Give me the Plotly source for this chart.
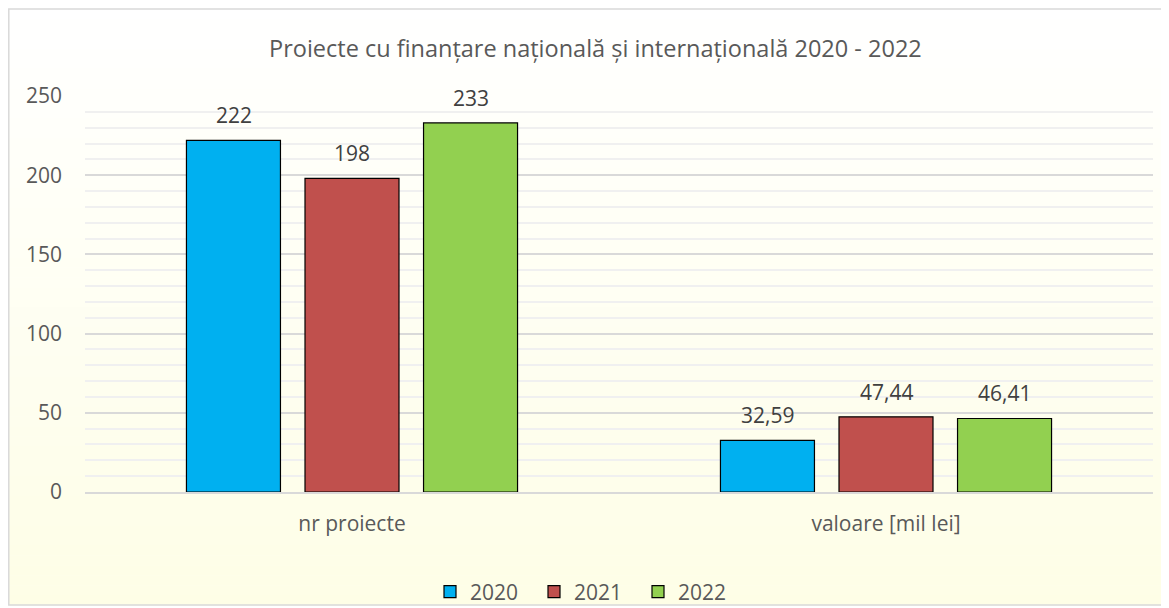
import plotly.graph_objects as go

categories = ["nr proiecte", "valoare [mil lei]"]
years = ["2020", "2021", "2022"]
values_2020 = [222, 32.59]
values_2021 = [198, 47.44]
values_2022 = [233, 46.41]
series = [values_2020, values_2021, values_2022]
colors = ["#00B0F0", "#C0504D", "#92D050"]
title_text = "Proiecte cu finanțare națională și internațională 2020 - 2022"

FONT = "Open Sans"
FS = 21
TFS = 23.5
# page has an 8px body margin, so the figure is 8px smaller and offset
W, H = 1161, 600
L, R, T, B = 77, 16, 88, 116
pw, ph = W - L - R, H - T - B

# helpers take page (screenshot) pixel coordinates
def px2x(px):
    return (px - 8 - L) / pw

def py2y(py):
    return (H - B - (py - 8)) / ph

fig = go.Figure()
for name, vals, col in zip(years, series, colors):
    fig.add_trace(go.Bar(
        x=categories, y=vals, name=name,
        marker=dict(color=col, line=dict(color="#000000", width=1.2)),
    ))

# data labels
offsets = [-118.5, 0, 118.5]
annotations = []
for vals, off in zip(series, offsets):
    for c, v in zip(categories, vals):
        lab = (f"{v:.2f}".replace(".", ",") if isinstance(v, float) else str(v))
        annotations.append(dict(x=c, y=v, xref="x", yref="y", text=lab, showarrow=False,
                                xshift=off, yanchor="bottom", yshift=9,
                                font=dict(family=FONT, size=FS, color="#404040")))
annotations.append(dict(x=px2x(595), y=py2y(48), xref="paper", yref="paper", text=title_text,
                        showarrow=False, xanchor="center", yanchor="middle",
                        font=dict(family=FONT, size=TFS, color="#595959")))

# gradient background bands + border
shapes = []
top, bot = 9, 605
N = 60
c0 = (255, 255, 255)
c1 = (254, 254, 230)
for i in range(N):
    y0 = top + (bot - top) * i / N
    y1 = top + (bot - top) * (i + 1) / N
    t = (i + 0.5) / N
    col = tuple(round(c0[k] + (c1[k] - c0[k]) * t) for k in range(3))
    shapes.append(dict(type="rect", xref="paper", yref="paper", layer="below",
                       x0=px2x(8.5), x1=px2x(1165), y0=py2y(y1 + 0.5), y1=py2y(y0),
                       line=dict(width=0), fillcolor="rgb(%d,%d,%d)" % col))
shapes.append(dict(type="rect", xref="paper", yref="paper", layer="below",
                   x0=px2x(8.8), x1=px2x(1165), y0=py2y(605), y1=py2y(9),
                   line=dict(width=1.5, color="#D9D9D9"), fillcolor="rgba(0,0,0,0)"))

fig.update_layout(
    width=W, height=H,
    margin=dict(l=L, r=R, t=T, b=B, autoexpand=False),
    paper_bgcolor="white", plot_bgcolor="rgba(0,0,0,0)",
    barmode="group", bargap=0.334, bargroupgap=0.207,
    font=dict(family=FONT, size=FS, color="#595959"),
    showlegend=True,
    legend=dict(orientation="h", x=px2x(430), xanchor="left", y=py2y(592), yanchor="middle",
                font=dict(family=FONT, size=FS, color="#595959"), bgcolor="rgba(0,0,0,0)",
                traceorder="normal", itemwidth=30, entrywidth=59, entrywidthmode="pixels"),
    annotations=annotations, shapes=shapes,
)
fig.update_yaxes(range=[0, 250], dtick=50, showgrid=True, gridcolor="#D9D9D9", gridwidth=1.5,
                 minor=dict(dtick=10, showgrid=True, gridcolor="#F0F0F0", gridwidth=1.5),
                 zeroline=False, showline=False, ticks="", ticklabelstandoff=22,
                 tickfont=dict(family=FONT, size=FS, color="#595959"))
fig.update_xaxes(showline=True, linecolor="#D9D9D9", linewidth=1.5, ticks="",
                 ticklabelstandoff=12, tickfont=dict(family=FONT, size=FS, color="#595959"))

fig.write_html("out.html")
